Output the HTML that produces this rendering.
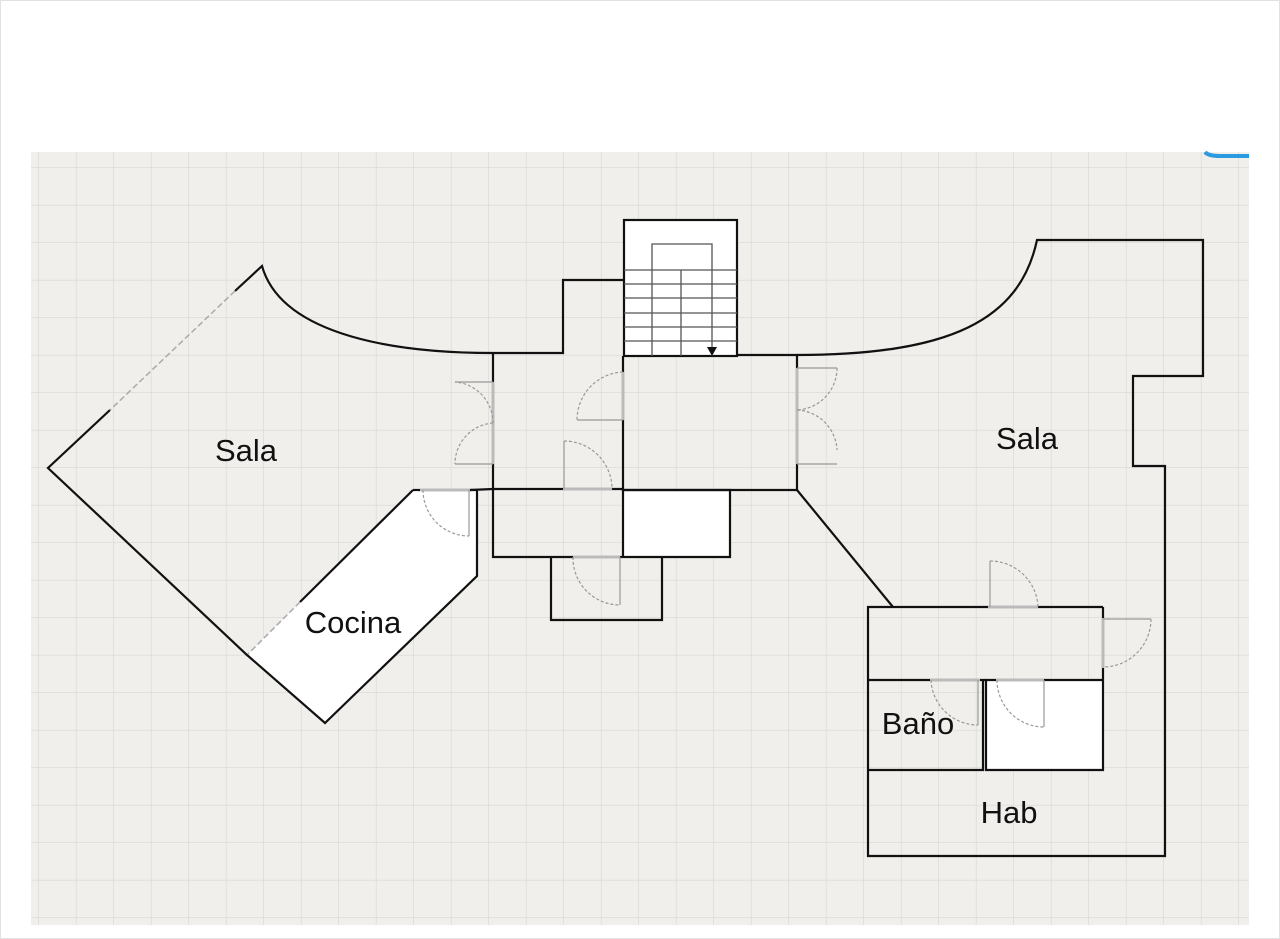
<!DOCTYPE html>
<html><head><meta charset="utf-8"><style>
html,body{margin:0;padding:0;background:#fff;}
body{width:1280px;height:939px;overflow:hidden;position:relative;}
svg{position:absolute;left:0;top:0;}
text{font-family:"Liberation Sans",sans-serif;font-size:31px;fill:#111;text-anchor:middle;}
</style></head><body>
<svg width="1280" height="939" viewBox="0 0 1280 939">
<defs>
<pattern id="g" x="1.5" y="-19.5" width="37.5" height="37.5" patternUnits="userSpaceOnUse">
<path d="M37.5 0V37.5M0 37.5H37.5" stroke="#d8d7d3" stroke-width="1.3" fill="none"/>
</pattern>
</defs>
<rect x="0.5" y="0.5" width="1279" height="938" fill="#fff" stroke="#e2e2e2"/>
<rect x="31" y="152" width="1218" height="773" fill="#f0efec"/>
<rect x="31" y="152" width="1218" height="773" fill="url(#g)"/>
<path d="M1205 152 Q1208 156 1220 156 L1249 156" stroke="#2a9be0" stroke-width="4" fill="none"/>
<polygon points="413,490 477,490 477,576 325,723 248,654" fill="#fff"/>
<rect x="624" y="220" width="113" height="136" fill="#fff"/>
<rect x="623" y="490" width="107" height="67" fill="#fff"/>
<rect x="986" y="680" width="117" height="90" fill="#fff"/>
<g fill="none" stroke="#111" stroke-width="2.2">
<path d="M235,291 L262,266 C280,330 380,353 493,353 L563,353 L563,280 L624,280"/>
<path d="M110,410 L48,468 L247,655 L325,723 L477,576 L477,490 L470,490"/>
<path d="M413,490 L300,602"/>
<path d="M413,490 L420,490"/>
<path d="M493,353 L493,382 M493,464 L493,489 L563,489 M612,489 L623,489"/>
<path d="M470,490 L493,489"/>
<rect x="624" y="220" width="113" height="136"/>
<path d="M623,356 L623,372 M623,420 L623,490 L797,490 L797,464 M797,368 L797,355 L737,355"/>
<path d="M797,355 C950,355 1020,320 1037,240 L1203,240 L1203,376 L1133,376 L1133,466 L1165,466 L1165,856 L868,856 L868,607 L988,607 M1038,607 L1103,607"/>
<path d="M797,490 L893,607"/>
<path d="M493,489 L493,557 L551,557 L551,620 L662,620 L662,557 L730,557 L730,490 L623,490 L623,557 M620,557 L662,557 M573,557 L551,557"/>
<path d="M1103,607 L1103,618 M1103,668 L1103,770 L986,770 L986,680 L996,680 M1044,680 L1103,680"/>
<path d="M868,680 L930,680 M980,680 L986,680 L983,680 L983,770 L868,770"/>
</g>
<g stroke="#aaa" stroke-width="1.5" stroke-dasharray="6,3" fill="none">
<path d="M235,291 L110,410"/>
<path d="M300,602 L248,654"/>
</g>
<g stroke="#555" stroke-width="1.3" fill="none">
<path d="M652,356 L652,244 L712,244 L712,356"/>
<path d="M681,270 L681,356"/>
<path d="M624,270H737M624,284H737M624,298H737M624,313H737M624,327H737M624,341H737"/>
</g>
<polygon points="707,347 717,347 712,356" fill="#111"/>
<g stroke="#999" stroke-width="1.2" fill="none">
<path d="M493,382 L493,464" stroke="#bbb" stroke-width="3"/>
<path d="M493,382 L455,382"/>
<path d="M493,423 A41,41 0 0 0 455,382" stroke-dasharray="3,2"/>
<path d="M493,464 L455,464"/>
<path d="M493,423 A41,41 0 0 0 455,464" stroke-dasharray="3,2"/>
<path d="M623,372 L623,420" stroke="#bbb" stroke-width="3"/>
<path d="M623,420 L577,420"/>
<path d="M623,372 A48,48 0 0 0 577,420" stroke-dasharray="3,2"/>
<path d="M563,489 L612,489" stroke="#bbb" stroke-width="3"/>
<path d="M564,489 L564,441"/>
<path d="M564,441 A48,48 0 0 1 612,489" stroke-dasharray="3,2"/>
<path d="M797,368 L797,464" stroke="#bbb" stroke-width="3"/>
<path d="M797,368 L837,368 M797,464 L837,464"/>
<path d="M837,368 A42,42 0 0 1 797,410 M797,410 A42,42 0 0 1 837,450" stroke-dasharray="3,2"/>
<path d="M420,490 L470,490" stroke="#bbb" stroke-width="3"/>
<path d="M469,490 L469,536"/>
<path d="M423,490 A46,46 0 0 0 469,536" stroke-dasharray="3,2"/>
<path d="M573,557 L620,557" stroke="#bbb" stroke-width="3"/>
<path d="M620,557 L620,605"/>
<path d="M573,557 A47,47 0 0 0 620,605" stroke-dasharray="3,2"/>
<path d="M988,607 L1038,607" stroke="#bbb" stroke-width="3"/>
<path d="M990,607 L990,561"/>
<path d="M990,561 A48,48 0 0 1 1038,607" stroke-dasharray="3,2"/>
<path d="M1103,618 L1103,668" stroke="#bbb" stroke-width="3"/>
<path d="M1103,619 L1151,619"/>
<path d="M1151,619 A48,48 0 0 1 1103,667" stroke-dasharray="3,2"/>
<path d="M930,680 L980,680" stroke="#bbb" stroke-width="3"/>
<path d="M978,680 L978,725"/>
<path d="M931,680 A47,47 0 0 0 978,725" stroke-dasharray="3,2"/>
<path d="M996,680 L1044,680" stroke="#bbb" stroke-width="3"/>
<path d="M1044,680 L1044,727"/>
<path d="M997,680 A47,47 0 0 0 1044,727" stroke-dasharray="3,2"/>
</g>
<text x="246" y="461">Sala</text>
<text x="1027" y="449">Sala</text>
<text x="353" y="633">Cocina</text>
<text x="918" y="734">Baño</text>
<text x="1009" y="823">Hab</text>
</svg>
</body></html>
